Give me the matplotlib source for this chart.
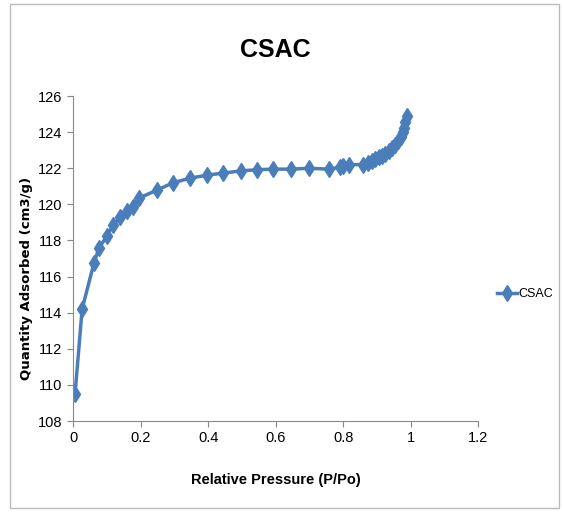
import matplotlib
matplotlib.use("Agg")
import matplotlib.pyplot as plt
from matplotlib.patches import Rectangle

# relative pressure (P/Po) and quantity adsorbed (cm3/g)
pressure = [0.006, 0.027, 0.062, 0.077, 0.10, 0.119, 0.139, 0.160, 0.178, 0.196,
            0.249, 0.297, 0.347, 0.398, 0.445, 0.496, 0.546, 0.593, 0.647, 0.698,
            0.757, 0.790, 0.800, 0.816, 0.858, 0.875, 0.885, 0.895, 0.905, 0.915,
            0.925, 0.935, 0.945, 0.955, 0.962, 0.970, 0.976, 0.980, 0.984, 0.988]
adsorbed = [109.5, 114.2, 116.75, 117.58, 118.24, 118.85, 119.3, 119.63, 119.85, 120.35,
            120.79, 121.2, 121.45, 121.62, 121.73, 121.85, 121.92, 121.95, 121.95, 122.0,
            121.95, 122.05, 122.15, 122.2, 122.2, 122.3, 122.4, 122.5, 122.6, 122.7,
            122.8, 122.95, 123.1, 123.3, 123.5, 123.75, 124.0, 124.25, 124.55, 124.9]

xticks = [0, 0.2, 0.4, 0.6, 0.8, 1, 1.2]
xlabels = ["0", "0.2", "0.4", "0.6", "0.8", "1", "1.2"]
yticks = list(range(108, 127, 2))

plt.rcParams['font.family'] = ['Liberation Sans', 'DejaVu Sans']

BLUE = '#4A7EBB'

fig = plt.figure(figsize=(5.63, 5.12), dpi=100)
fig.patches.append(Rectangle((0.018, 0.008), 0.975, 0.985, transform=fig.transFigure,
                             fill=False, edgecolor='#bbbbbb', linewidth=1))
ax = fig.add_axes([0.1297, 0.1777, 0.7197, 0.6348])

ax.plot(pressure, adsorbed, color=BLUE, linewidth=2.5, marker='d', markersize=8.5,
        label='CSAC')

ax.set_xlim(0, 1.2)
ax.set_ylim(108, 126)
ax.set_xticks(xticks)
ax.set_xticklabels(xlabels)
ax.set_yticks(yticks)
ax.tick_params(axis='both', labelsize=10.5, color='#888888', direction='out', length=4)
for s in ['top', 'right']:
    ax.spines[s].set_visible(False)
for s in ['left', 'bottom']:
    ax.spines[s].set_color('#888888')

ax.set_title('CSAC', fontsize=18, fontweight='bold', pad=28)
ax.set_xlabel('Relative Pressure (P/Po)', fontsize=10.5, fontweight='bold', labelpad=20)
ax.set_ylabel('Quantity Adsorbed (cm3/g)', fontsize=9.5, fontweight='bold',
              family='DejaVu Sans')
ax.yaxis.set_label_coords(-0.1, 0.44)

ax.legend(loc='center left', bbox_to_anchor=(1.035, 0.39), frameon=False, fontsize=9,
          handlelength=1.6, handletextpad=0.1, borderpad=0.1, borderaxespad=0.3)

fig.savefig('out.png', dpi=100)
